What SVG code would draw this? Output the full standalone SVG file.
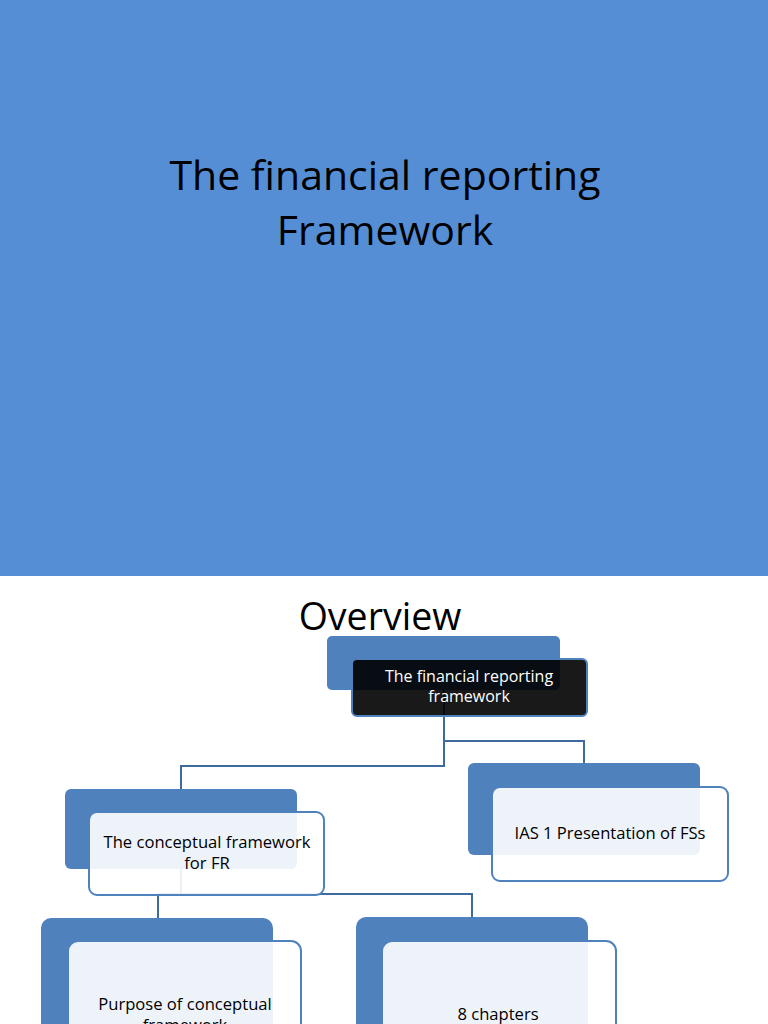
<svg xmlns="http://www.w3.org/2000/svg" width="768" height="1024" viewBox="0 0 768 1024">
<style>
.back{fill:#4f81bd}
.front{fill:#ffffff;fill-opacity:0.9;stroke:#4f81bd;stroke-width:2}
.dark{fill:#000000;fill-opacity:0.9;stroke:#4f81bd;stroke-width:2}
.conn{fill:none;stroke:#3e6a9e;stroke-width:2}
.t{font-family:"Open Sans","Liberation Sans",Arial,sans-serif;font-size:16.6px;text-anchor:middle;fill:#000}
.w{fill:#fff;font-size:16px}
.title{font-family:"Open Sans","Liberation Sans",Arial,sans-serif;text-anchor:middle;fill:#000}
</style>
<rect x="0" y="0" width="768" height="576" fill="#558ed5"/>
<rect x="0" y="576" width="768" height="448" fill="#ffffff"/>
<g id="title">
<text class="title" x="385" y="190" font-size="41">The financial reporting</text>
<text class="title" x="385" y="245" font-size="41">Framework</text>
</g>
<text class="title" x="380" y="630" font-size="37.5">Overview</text>
<g id="connectors">
<path class="conn" d="M444,690 V766 H181 V789"/>
<path class="conn" d="M444,741 H584 V763"/>
<path class="conn" d="M181,869 V894 H158 V918"/>
<path class="conn" d="M181,894 H472 V917"/>
</g>
<g id="node-root">
<rect class="back" x="327" y="636" width="233" height="54" rx="5"/>
<rect class="dark" x="352" y="659" width="235" height="57" rx="5"/>
<text class="t w" x="469" y="682">The financial reporting</text>
<text class="t w" x="469" y="702">framework</text>
</g>
<g id="node-conceptual">
<rect class="back" x="65" y="789" width="232" height="80" rx="6"/>
<rect class="front" x="89" y="812" width="235" height="83" rx="8"/>
<text class="t" x="207" y="848">The conceptual framework</text>
<text class="t" x="207" y="869">for FR</text>
</g>
<g id="node-ias1">
<rect class="back" x="468" y="763" width="232" height="92" rx="6"/>
<rect class="front" x="492" y="787" width="236" height="94" rx="8"/>
<text class="t" x="610" y="839">IAS 1 Presentation of FSs</text>
</g>
<g id="node-purpose">
<rect class="back" x="41" y="918" width="232" height="130" rx="10"/>
<rect class="front" x="68" y="941" width="233" height="110" rx="10"/>
<text class="t" x="185" y="1010">Purpose of conceptual</text>
<text class="t" x="185" y="1031">framework</text>
</g>
<g id="node-chapters">
<rect class="back" x="356" y="917" width="232" height="130" rx="10"/>
<rect class="front" x="382" y="941" width="234" height="110" rx="10"/>
<text class="t" x="498" y="1020">8 chapters</text>
</g>
</svg>
